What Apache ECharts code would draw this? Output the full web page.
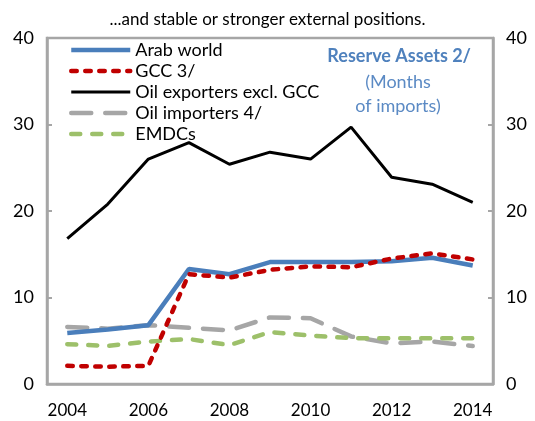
<!DOCTYPE html>
<html>
<head>
<meta charset="utf-8">
<script src="https://cdn.jsdelivr.net/npm/echarts@6/dist/echarts.min.js"></script>
<style>
	html, body { margin: 0; padding: 0; background: #fff; }
	#chart { width: 535px; height: 421px; }
</style>
</head>
<body>
<div id="chart"></div>
<script>
var years = ['2004', '2005', '2006', '2007', '2008', '2009', '2010', '2011', '2012', '2013', '2014'];
var arabWorld = [5.9, 6.3, 6.8, 13.3, 12.7, 14.1, 14.1, 14.1, 14.2, 14.6, 13.7];
var gcc = [2.1, 2.0, 2.1, 12.7, 12.3, 13.2, 13.6, 13.5, 14.5, 15.1, 14.4];
var oilExpExGcc = [16.8, 20.8, 26.0, 27.9, 25.4, 26.8, 26.0, 29.7, 23.9, 23.1, 21.0];
var oilImporters = [6.6, 6.4, 6.8, 6.5, 6.2, 7.7, 7.6, 5.5, 4.7, 4.9, 4.4];
var emdcs = [4.6, 4.4, 4.9, 5.2, 4.5, 6.0, 5.6, 5.3, 5.3, 5.3, 5.3];
var yTicks = [0, 10, 20, 30, 40];

var fontFam = 'Lato, "Open Sans", sans-serif';
var frameColor = '#a6a6a6';

function yAxisCfg(pos) {
	return {
		type: 'value',
		position: pos,
		min: yTicks[0],
		max: yTicks[yTicks.length - 1],
		interval: 10,
		splitLine: { show: false },
		axisLine: { show: true, lineStyle: { color: frameColor, width: 2.5 } },
		axisTick: { show: true, inside: true, length: 5, lineStyle: { color: frameColor, width: 2 } },
		axisLabel: { color: '#000', fontSize: 18, fontFamily: fontFam, margin: 13 }
	};
}

var chart = echarts.init(document.getElementById('chart'));
var option = {
	animation: false,
	title: {
		text: '...and stable or stronger external positions.',
		left: 'center',
		top: 6,
		textStyle: { fontSize: 17, fontWeight: 'normal', color: '#000', fontFamily: fontFam }
	},
	grid: {
		left: 47, right: 42, top: 38, bottom: 37,
		show: true, borderColor: frameColor, borderWidth: 2.5
	},
	legend: {
		orient: 'vertical',
		left: 64,
		top: 36,
		itemWidth: 59,
		itemHeight: 12,
		itemGap: 3,
		itemStyle: { opacity: 0 },
		lineStyle: { width: 'inherit' },
		textStyle: { fontSize: 18, lineHeight: 18, color: '#000', fontFamily: fontFam },
		data: ['Arab world', 'GCC 3/', 'Oil exporters excl. GCC', 'Oil importers 4/', 'EMDCs']
	},
	graphic: [
		{
			type: 'text', right: 64, top: 47,
			style: { text: 'Reserve Assets 2/', fill: '#4f81bd', font: 'bold 18px ' + fontFam, textAlign: 'right' }
		},
		{
			type: 'text', x: 398, y: 70,
			style: { text: '(Months\nof imports)', fill: '#5b8ac4', font: '18px ' + fontFam, textAlign: 'center', lineHeight: 24 }
		}
	],
	xAxis: {
		type: 'category',
		data: years,
		boundaryGap: true,
		axisLine: { lineStyle: { color: frameColor, width: 2.5 } },
		axisTick: { inside: true, length: 6, interval: 0, lineStyle: { color: frameColor, width: 2 } },
		axisLabel: { interval: 1, color: '#000', fontSize: 17, fontFamily: fontFam, margin: 18 }
	},
	yAxis: [yAxisCfg('left'), yAxisCfg('right')],
	series: [
		{
			name: 'Oil importers 4/', type: 'line', data: oilImporters, symbol: 'none', z: 2,
			lineStyle: { color: '#a6a6a6', width: 4.5, type: [20, 14], cap: 'round' }, itemStyle: { color: '#a6a6a6' }
		},
		{
			name: 'EMDCs', type: 'line', data: emdcs, symbol: 'none', z: 2,
			lineStyle: { color: '#9dc06a', width: 4.5, type: [9, 12], cap: 'round' }, itemStyle: { color: '#9dc06a' }
		},
		{
			name: 'Oil exporters excl. GCC', type: 'line', data: oilExpExGcc, symbol: 'none', z: 3,
			lineStyle: { color: '#000', width: 3 }, itemStyle: { color: '#000' }
		},
		{
			name: 'Arab world', type: 'line', data: arabWorld, symbol: 'none', z: 3,
			lineStyle: { color: '#4a7ebb', width: 4.5 }, itemStyle: { color: '#4a7ebb' }
		},
		{
			name: 'GCC 3/', type: 'line', data: gcc, symbol: 'none', z: 4,
			lineStyle: { color: '#c00000', width: 4.5, type: [5.5, 8.5], cap: 'round' }, itemStyle: { color: '#c00000' }
		}
	]
};
chart.setOption(option);
</script>
</body>
</html>
